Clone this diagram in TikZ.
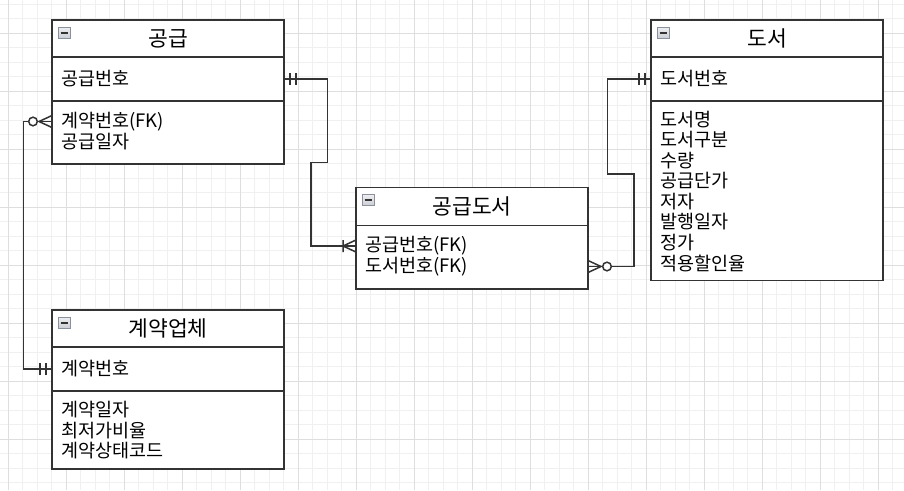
\documentclass[tikz,border=0pt]{standalone}
\usepackage{fontspec}
\setmainfont{Noto Sans CJK KR}
\usepackage{tikz}
\usetikzlibrary{
    positioning
}
\definecolor{linegray}{HTML}{333333}
\definecolor{minorgrid}{HTML}{F0F0F0}
\definecolor{majorgrid}{HTML}{DEDEDE}
\definecolor{iconedge}{HTML}{8A909E}
\newcommand{\attrfont}{\fontsize{18.5}{22}\selectfont}
\newcommand{\titlefont}{\fontsize{21.5}{25}\selectfont}
\tikzset{
    ent title/.style={
        draw=linegray,
        line width=1.5pt,
        fill=white,
        outer sep=0pt,
        inner sep=0pt,
        minimum width=232pt,
        minimum height=37pt,
        font=\titlefont
    },
    ent part/.style={
        draw=linegray,
        line width=1.5pt,
        fill=white,
        outer sep=0pt,
        inner sep=0pt,
        minimum width=232pt
    },
    attr/.style={
        anchor=west,
        inner sep=0pt,
        font=\attrfont
    },
    conn/.style={
        draw=linegray,
        line width=1.5pt
    },
    fold icon/.pic={
        \draw[iconedge, line width=0.8pt, top color=white!85!iconedge,
              bottom color=white!55!iconedge] (-6.3,-5.5) rectangle (6.3,5.5);
        \draw[linegray, line width=1.6pt] (-3.8,0) -- (3.8,0);
    },
    mand one/.pic={
        \draw[conn] (6,-6) -- (6,6) (12,-6) -- (12,6);
    },
    one many/.pic={
        \draw[conn] (0,-6) -- (13,0) -- (0,6) (13,-6) -- (13,6);
    },
    zero many/.pic={
        \draw[conn] (0,-6) -- (13,0) -- (0,6);
        \draw[conn, fill=white] (19,0) circle[radius=4.3];
    }
}

\begin{document}
\begin{tikzpicture}[
    x=1pt,
    y=-1pt
]

    % Fondo
    \useasboundingbox (0,0) rectangle (904,490);
    \fill[white] (0,0) rectangle (904,490);
    \foreach \gx in {0,...,61}
        \draw[minorgrid, line width=1pt] ({8+14.5*\gx},0) -- ({8+14.5*\gx},490);
    \foreach \gy in {0,...,33}
        \draw[minorgrid, line width=1pt] (0,{4.3+14.5*\gy}) -- (904,{4.3+14.5*\gy});
    \foreach \gx in {0,...,15}
        \draw[majorgrid, line width=1pt] ({8+58*\gx},0) -- ({8+58*\gx},490);
    \foreach \gy in {0,...,7}
        \draw[majorgrid, line width=1pt] (0,{33.3+58*\gy}) -- (904,{33.3+58*\gy});

    % 공급
    \node[ent title] (gg-t) at (168,38.5) {공급};
    \node[ent part, minimum height=44pt, below=0pt of gg-t] (gg-k) {};
    \node[ent part, minimum height=63pt, below=0pt of gg-k] (gg-a) {};
    \node[attr] (gg-k1) at (61,79)    {공급번호};
    \node[attr] (gg-r1) at (61,121.5) {계약번호(FK)};
    \node[attr] (gg-r2) at (61,142)   {공급일자};

    % 도서
    \node[ent title] (do-t) at (767,38.5) {도서};
    \node[ent part, minimum height=44pt, below=0pt of do-t] (do-k) {};
    \node[ent part, minimum height=179.5pt, below=0pt of do-k] (do-a) {};
    \node[attr] (do-k1) at (660,79)    {도서번호};
    \node[attr] (do-r1) at (660,119.5) {도서명};
    \node[attr] (do-r2) at (660,140)   {도서구분};
    \node[attr] (do-r3) at (660,160.5) {수량};
    \node[attr] (do-r4) at (660,181)   {공급단가};
    \node[attr] (do-r5) at (660,201.5) {저자};
    \node[attr] (do-r6) at (660,222)   {발행일자};
    \node[attr] (do-r7) at (660,242.5) {정가};
    \node[attr] (do-r8) at (660,263)   {적용할인율};

    % 공급도서
    \node[ent title, minimum height=38pt] (gd-t) at (472,206.5) {공급도서};
    \node[ent part, minimum height=63.5pt, below=0pt of gd-t] (gd-a) {};
    \node[attr] (gd-r1) at (365,246)   {공급번호(FK)};
    \node[attr] (gd-r2) at (365,266.5) {도서번호(FK)};

    % 계약업체
    \node[ent title] (gy-t) at (168,328.5) {계약업체};
    \node[ent part, minimum height=44pt, below=0pt of gy-t] (gy-k) {};
    \node[ent part, minimum height=78pt, below=0pt of gy-k] (gy-a) {};
    \node[attr] (gy-k1) at (61,369)   {계약번호};
    \node[attr] (gy-r1) at (61,410)   {계약일자};
    \node[attr] (gy-r2) at (61,430.5) {최저가비율};
    \node[attr] (gy-r3) at (61,451)   {계약상태코드};

    % Iconos
    \pic at ([shift={(12.5,12.7)}]gg-t.north west) {fold icon};
    \pic at ([shift={(12.5,12.7)}]do-t.north west) {fold icon};
    \pic at ([shift={(12.5,12.7)}]gd-t.north west) {fold icon};
    \pic at ([shift={(12.5,12.7)}]gy-t.north west) {fold icon};

    % Relaciones
    \coordinate (j1) at (327.5,162.7);
    \coordinate (j2) at (311,162.7);
    \coordinate (j3) at (607.7,174);
    \coordinate (j4) at (634,174);
    \coordinate (j5) at (23.3,121.5);

    \draw[conn] (gg-k.east) -| (j1) -- (j2) |- (gd-r1.west -| gd-a.west);
    \draw[conn] (do-k.west) -| (j3) -- (j4) |- (gd-r2.west -| gd-a.east);
    \draw[conn] (gg-r1.west -| gg-a.west) -- (j5) |- (gy-k.west);

    \pic at (gg-k.east) {mand one};
    \pic[rotate=180] at (gd-r1.west -| gd-a.west) {one many};
    \pic[rotate=180] at (do-k.west) {mand one};
    \pic at (gd-r2.west -| gd-a.east) {zero many};
    \pic[rotate=180] at (gg-r1.west -| gg-a.west) {zero many};
    \pic[rotate=180] at (gy-k.west) {mand one};

\end{tikzpicture}
\end{document}
